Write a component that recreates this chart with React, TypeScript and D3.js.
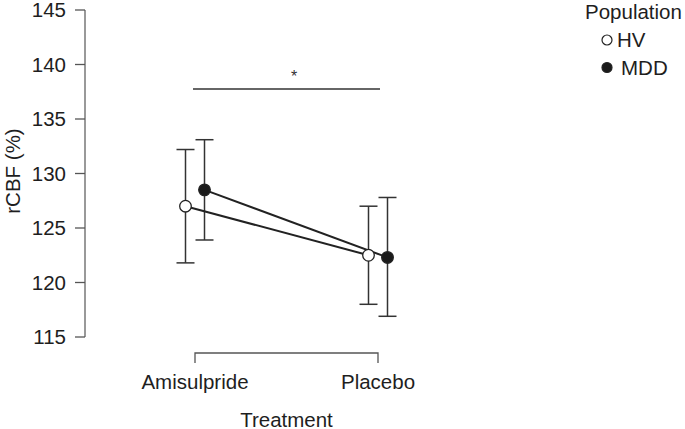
import * as React from 'react';
import * as d3 from 'd3';

const treatments = ['Amisulpride', 'Placebo'];
const populations = ['HV', 'MDD'];
// mean, lower, upper per population per treatment
const hvMeans = [127.0, 122.5];
const hvLower = [121.8, 118.0];
const hvUpper = [132.2, 127.0];
const mddMeans = [128.5, 122.3];
const mddLower = [123.9, 116.9];
const mddUpper = [133.1, 127.8];
const yTicks = [115, 120, 125, 130, 135, 140, 145];

const W = 685;
const H = 429;
const font = '"Liberation Sans", Arial, sans-serif';
const fs = 20.5;

const y = d3.scaleLinear().domain([115, 145]).range([337, 10]);
const x = d3.scalePoint<string>().domain(treatments).range([195, 378]);
const dodge = d3.scalePoint<string>().domain(populations).range([-9.5, 9.5]);

const series = [
  {name: 'HV', means: hvMeans, lower: hvLower, upper: hvUpper, fill: '#ffffff'},
  {name: 'MDD', means: mddMeans, lower: mddLower, upper: mddUpper, fill: '#1a1a1a'},
];

export default function App() {
  const axisX = 85;
  const cap = 9;

  return (
    <svg width={W} height={H} style={{position: 'absolute', left: 0, top: 0, background: '#fff'}}
         fontFamily={font}>
      {/* y axis */}
      <line x1={axisX} x2={axisX} y1={y(145)} y2={y(115)} stroke="#777" strokeWidth={1.5}/>
      {yTicks.map(t => (
        <g key={t}>
          <line x1={axisX - 10} x2={axisX} y1={y(t)} y2={y(t)} stroke="#555" strokeWidth={1.3}/>
          <text x={66} y={y(t)} dy="0.35em" textAnchor="end" fontSize={fs} fill="#1e1e1e">{t}</text>
        </g>
      ))}
      <text transform={`translate(13,171) rotate(-90)`} textAnchor="middle" dy="0.35em"
            fontSize={fs} fill="#1e1e1e">rCBF (%)</text>

      {/* x axis bracket */}
      <path d={`M${x('Amisulpride')},363V353H${x('Placebo')}V363`} fill="none" stroke="#555" strokeWidth={1.3}/>
      {treatments.map(t => (
        <text key={t} x={x(t)} y={389} textAnchor="middle" fontSize={fs} fill="#1e1e1e">{t}</text>
      ))}
      <text x={(x('Amisulpride')! + x('Placebo')!) / 2} y={427} textAnchor="middle" fontSize={fs} fill="#1e1e1e">Treatment</text>

      {/* significance */}
      <line x1={193} x2={380} y1={89} y2={89} stroke="#333" strokeWidth={1.5}/>
      <text x={294} y={82} textAnchor="middle" fontSize={16} fill="#333">*</text>

      {/* error bars */}
      {series.map(s => treatments.map((t, i) => {
        const cx = x(t)! + dodge(s.name)!;
        return (
          <g key={s.name + t} stroke="#333" strokeWidth={1.5}>
            <line x1={cx} x2={cx} y1={y(s.upper[i])} y2={y(s.lower[i])}/>
            <line x1={cx - cap} x2={cx + cap} y1={y(s.upper[i])} y2={y(s.upper[i])}/>
            <line x1={cx - cap} x2={cx + cap} y1={y(s.lower[i])} y2={y(s.lower[i])}/>
          </g>
        );
      }))}

      {/* lines */}
      {series.map(s => {
        const path = d3.line<number>()
          .x((_, i) => x(treatments[i])! + dodge(s.name)!)
          .y(d => y(d))(s.means);
        return <path key={s.name} d={path || ''} fill="none" stroke="#222" strokeWidth={2}/>;
      })}

      {/* points */}
      {series.map(s => s.means.map((m, i) => (
        <circle key={s.name + i} cx={x(treatments[i])! + dodge(s.name)!} cy={y(m)} r={5.8}
                fill={s.fill} stroke="#222" strokeWidth={1.3}/>
      )))}

      {/* legend */}
      <text x={585} y={19} fontSize={fs} fill="#1e1e1e">Population</text>
      {series.map((s, i) => (
        <g key={s.name}>
          <circle cx={607} cy={40 + i * 27.5} r={5} fill={s.fill} stroke="#222" strokeWidth={1.2}/>
          <text x={617 + i * 4} y={40 + i * 27.5} dy="0.35em" fontSize={fs} fill="#1e1e1e">{s.name}</text>
        </g>
      ))}
    </svg>
  );
}
